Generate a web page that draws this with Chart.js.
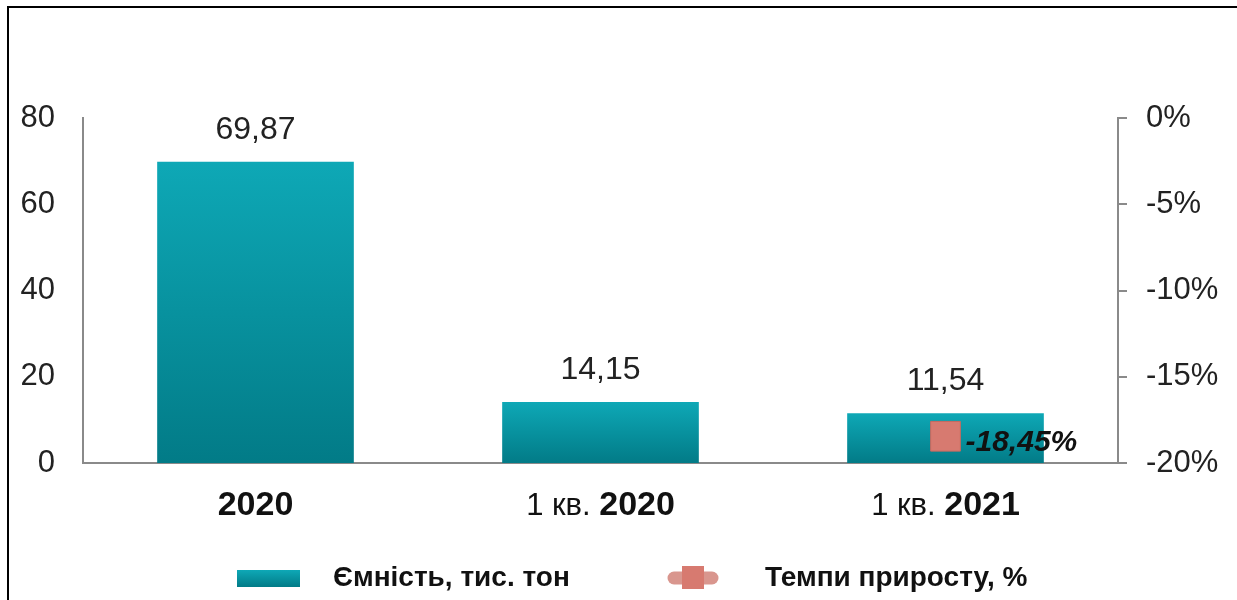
<!DOCTYPE html>
<html>
<head>
<meta charset="utf-8">
<style>
  body { margin: 0; background: #fff; }
  canvas { display: block; }
</style>
<script src="https://cdn.jsdelivr.net/npm/chart.js@4"></script>
</head>
<body>
<canvas id="myChart" width="1237" height="600"></canvas>
<script>
const categories = ['2020', '1 кв. 2020', '1 кв. 2021'];
const capacity = [69.87, 14.15, 11.54];
const growth = [null, null, -18.45];
const seriesNames = ['Ємність, тис. тон', 'Темпи приросту, %'];

const FONT = "'Liberation Sans', Arial, sans-serif";
const tealTop = '#0ea8b6';
const tealBottom = '#027b87';
const pink = '#d77a70';

const fmt = v => v.toFixed(2).replace('.', ',');

// per-bar vertical gradient
const barFill = (ctx) => {
  const chart = ctx.chart;
  const y = chart.scales && chart.scales.y;
  if (!y || !chart.chartArea || ctx.raw == null) return tealTop;
  const top = y.getPixelForValue(ctx.raw);
  const bottom = y.getPixelForValue(0);
  const g = chart.ctx.createLinearGradient(0, top, 0, bottom);
  g.addColorStop(0, tealTop);
  g.addColorStop(1, tealBottom);
  return g;
};

const extras = {
  id: 'extras',
  afterDraw(chart) {
    const ctx = chart.ctx;
    const x = chart.scales.x;
    const y = chart.scales.y;
    ctx.save();

    // frame
    ctx.fillStyle = '#000';
    ctx.fillRect(7, 6, chart.width - 7, 2);
    ctx.fillRect(7, 6, 2, chart.height - 6);

    // bar value labels
    ctx.fillStyle = '#222';
    ctx.font = '32px ' + FONT;
    ctx.textAlign = 'center';
    ctx.textBaseline = 'middle';
    capacity.forEach((v, i) => {
      ctx.fillText(fmt(v), x.getPixelForValue(i), y.getPixelForValue(v) - 32);
    });

    // line point label
    const meta = chart.getDatasetMeta(1);
    growth.forEach((v, i) => {
      if (v == null) return;
      const p = meta.data[i];
      ctx.fillStyle = '#111';
      ctx.font = 'italic bold 30px ' + FONT;
      ctx.textAlign = 'left';
      ctx.fillText(fmt(v) + '%', p.x + 20, p.y + 6);
    });

    // category labels: last word bold
    ctx.fillStyle = '#111';
    ctx.textBaseline = 'middle';
    categories.forEach((c, i) => {
      const k = c.lastIndexOf(' ');
      const pre = k >= 0 ? c.slice(0, k + 1) : '';
      const yr = k >= 0 ? c.slice(k + 1) : c;
      ctx.font = '31px ' + FONT;
      const w1 = ctx.measureText(pre).width;
      ctx.font = 'bold 34px ' + FONT;
      const w2 = ctx.measureText(yr).width;
      let sx = x.getPixelForValue(i) - (w1 + w2) / 2;
      ctx.textAlign = 'left';
      ctx.font = '31px ' + FONT;
      ctx.fillText(pre, sx, 506);
      ctx.font = 'bold 34px ' + FONT;
      ctx.fillText(yr, sx + w1, 506);
    });

    // legend
    const ly = 578;
    const g = ctx.createLinearGradient(0, ly - 8, 0, ly + 9);
    g.addColorStop(0, tealTop);
    g.addColorStop(1, tealBottom);
    ctx.fillStyle = g;
    ctx.fillRect(237, ly - 8, 63, 17);
    ctx.fillStyle = '#111';
    ctx.font = 'bold 28px ' + FONT;
    ctx.textAlign = 'left';
    ctx.fillText(seriesNames[0], 333, ly);

    ctx.strokeStyle = '#d9968e';
    ctx.lineWidth = 13;
    ctx.lineCap = 'round';
    ctx.beginPath();
    ctx.moveTo(674, ly);
    ctx.lineTo(712, ly);
    ctx.stroke();
    ctx.fillStyle = pink;
    ctx.fillRect(682, ly - 12, 22, 23);
    ctx.fillStyle = '#111';
    ctx.fillText(seriesNames[1], 765, ly);

    ctx.restore();
  }
};

new Chart(document.getElementById('myChart'), {
  data: {
    labels: categories,
    datasets: [
      {
        type: 'bar',
        label: seriesNames[0],
        data: capacity,
        yAxisID: 'y',
        backgroundColor: barFill,
        barPercentage: 0.57,
        categoryPercentage: 1,
        order: 2
      },
      {
        type: 'line',
        label: seriesNames[1],
        data: growth,
        yAxisID: 'y1',
        borderColor: '#d9968e',
        borderWidth: 6,
        pointStyle: 'rect',
        pointRadius: 21,
        pointBackgroundColor: pink,
        pointBorderColor: '#c9695f',
        pointBorderWidth: 1,
        order: 1
      }
    ]
  },
  options: {
    responsive: false,
    animation: false,
    layout: { padding: { top: 118, left: 0, right: 0, bottom: 0 } },
    plugins: {
      legend: { display: false },
      tooltip: { enabled: false }
    },
    scales: {
      x: {
        grid: { display: false },
        border: { display: true, color: '#8a8a8a', width: 2 },
        ticks: { display: false },
        afterFit(s) { s.height = 137; }
      },
      y: {
        position: 'left',
        min: 0,
        max: 80,
        ticks: {
          stepSize: 20,
          padding: 20,
          color: '#222',
          font: { family: FONT, size: 31 }
        },
        grid: { display: false },
        border: { display: true, color: '#8a8a8a', width: 2 },
        afterFit(s) { s.width = 83; }
      },
      y1: {
        position: 'right',
        min: -20,
        max: 0,
        ticks: {
          stepSize: 5,
          padding: 19,
          color: '#222',
          font: { family: FONT, size: 31 },
          callback: v => v + '%'
        },
        grid: {
          display: true,
          drawOnChartArea: false,
          drawTicks: true,
          tickLength: 9,
          color: '#8a8a8a',
          lineWidth: 2
        },
        border: { display: true, color: '#8a8a8a', width: 2 },
        afterFit(s) { s.width = 119; }
      }
    }
  },
  plugins: [extras]
});
</script>
</body>
</html>
